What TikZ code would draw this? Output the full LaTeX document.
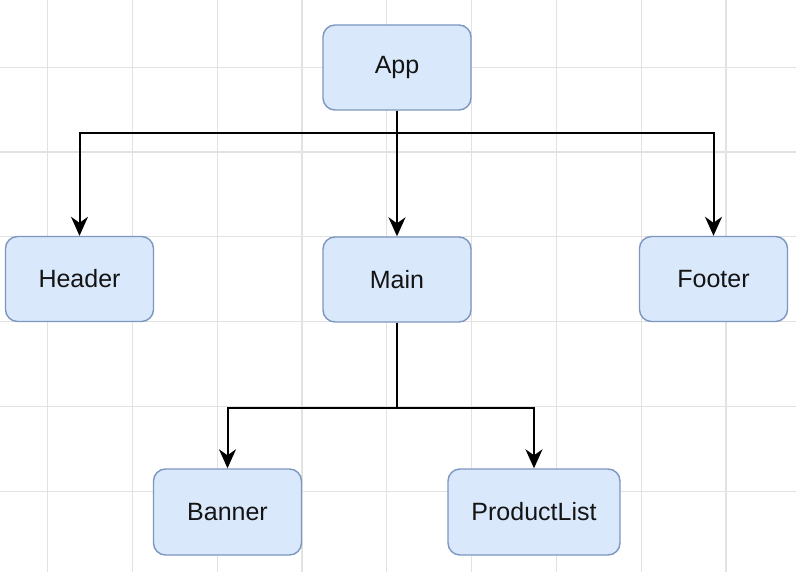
\documentclass[tikz,border=0pt]{standalone}
\usepackage{fontspec}
\setmainfont{Liberation Sans}
\usepackage{tikz}
\usetikzlibrary{arrows.meta}
\definecolor{boxfill}{HTML}{DAE8FC}
\definecolor{boxline}{HTML}{7C97C0}
\definecolor{gridgray}{HTML}{E2E2E2}
\tikzset{
    comp/.style={draw=boxline, fill=boxfill, line width=1.4pt, rounded corners=12pt,
        minimum width=148pt, minimum height=85pt, inner sep=0pt,
        font=\fontsize{25}{29}\selectfont, text=black!92},
    link/.style={draw=black, line width=2pt, -{Stealth[length=19pt, width=17pt, inset=6pt]}},
    gridline/.style={draw=gridgray, line width=1.2pt}
}
\begin{document}
\begin{tikzpicture}[x=1pt, y=-1pt]
            \useasboundingbox (0,0) rectangle (796,572);
            \fill[white] (0,0) rectangle (796,572);

            % background grid
            \foreach \i in {0,...,8}
                \draw[gridline] ({47.5+84.8*\i},0) -- ++(0,572);
            \foreach \j in {1,...,6}
                \draw[gridline] (0,{-17.5+84.8*\j}) -- ++(796,0);

            % component tree
            \node[comp] (app) at (397,67.5) {App};

            \node[comp] (header) at (79.5,279) {Header};
            \node[comp] (main)   at (397,279.5) {Main};
            \node[comp] (footer) at (713.5,279) {Footer};

            \node[comp, minimum height=86pt] (banner) at (227.5,512) {Banner};
            \node[comp, minimum width=172pt, minimum height=86pt] (plist) at (534,512) {ProductList};

            % parent -> child
            \draw[link] (app.south) -- ++(0,22) -| (header.north);
            \draw[link] (app.south) -- (main.north);
            \draw[link] (app.south) -- ++(0,22) -| (footer.north);
            \draw[link] (main.south) -- ++(0,85) -| (banner.north);
            \draw[link] (main.south) -- ++(0,85) -| (plist.north);
        \end{tikzpicture}
\end{document}
